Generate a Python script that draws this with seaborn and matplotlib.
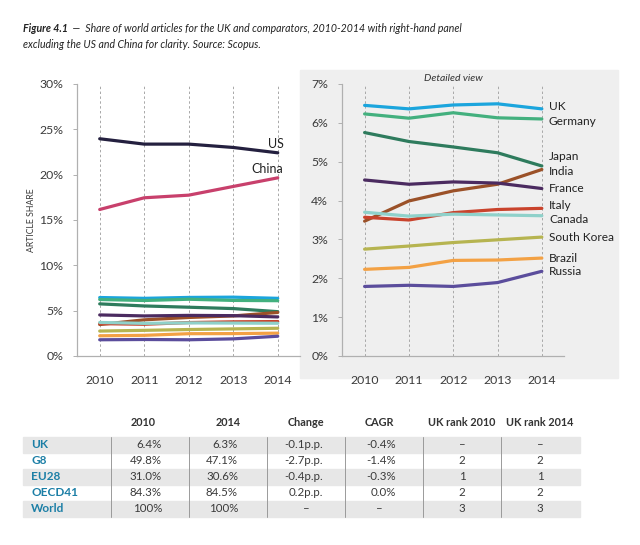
import matplotlib
matplotlib.use("Agg")
import pandas as pd
import seaborn as sns
from matplotlib import pyplot as plt
from matplotlib.patches import Rectangle

years = [2010, 2011, 2012, 2013, 2014]

# share of world articles, %
us = [23.96, 23.37, 23.37, 23.00, 22.41]
china = [16.16, 17.45, 17.74, 18.70, 19.65]
uk = [6.45, 6.36, 6.46, 6.49, 6.36]
germany = [6.23, 6.12, 6.26, 6.13, 6.10]
japan = [5.75, 5.52, 5.38, 5.23, 4.89]
india = [3.47, 3.99, 4.25, 4.42, 4.80]
france = [4.53, 4.42, 4.48, 4.45, 4.31]
italy = [3.57, 3.50, 3.69, 3.77, 3.80]
canada = [3.70, 3.60, 3.65, 3.63, 3.61]
south_korea = [2.75, 2.83, 2.92, 2.99, 3.06]
brazil = [2.23, 2.28, 2.46, 2.47, 2.52]
russia = [1.79, 1.82, 1.79, 1.89, 2.18]

series = {
    "US": us, "China": china, "UK": uk, "Germany": germany, "Japan": japan,
    "India": india, "France": france, "Italy": italy, "Canada": canada,
    "South Korea": south_korea, "Brazil": brazil, "Russia": russia,
}
colors = {
    "US": "#24203f", "China": "#c8406c", "UK": "#1ba5dd", "Germany": "#43b07e",
    "Japan": "#2e7b5d", "India": "#9b5128", "France": "#4b2b60", "Italy": "#c9432c",
    "Canada": "#8fd1ca", "South Korea": "#b6b450", "Brazil": "#f3a144", "Russia": "#5b4d9c",
}
# label nudges on the right panel (percentage points)
nudge = {"UK": 0.07, "Germany": -0.07, "Japan": 0.24, "India": -0.04,
         "Italy": 0.07, "Canada": -0.09}

# table
tbl_header = ["2010", "2014", "Change", "CAGR", "UK rank 2010", "UK rank 2014"]
tbl_rows = ["UK", "G8", "EU28", "OECD41", "World"]
tbl_2010 = ["6.4%", "49.8%", "31.0%", "84.3%", "100%"]
tbl_2014 = ["6.3%", "47.1%", "30.6%", "84.5%", "100%"]
tbl_change = ["-0.1p.p.", "-2.7p.p.", "-0.4p.p.", "0.2p.p.", "–"]
tbl_cagr = ["-0.4%", "-1.4%", "-0.3%", "0.0%", "–"]
tbl_rank10 = ["–", "2", "1", "2", "3"]
tbl_rank14 = ["–", "2", "1", "2", "3"]

df = pd.DataFrame(
    [(c, y, v) for c, vals in series.items() for y, v in zip(years, vals)],
    columns=["country", "year", "share"],
)

sns.set_style("white")
plt.rcParams["font.family"] = ["Lato", "DejaVu Sans"]

W, H = 640, 545
fig = plt.figure(figsize=(6.4, 5.45), dpi=100)


def fx(x):
    return x / W


def fy(y):
    return 1 - y / H


GRID = "#a8a8a8"
TXT = "#3a3a3a"
FS = 8.8

# grey box behind right panel
fig.patches.append(Rectangle((fx(300), fy(378)), fx(618) - fx(300), fy(70) - fy(378),
                             transform=fig.transFigure, color="#efefef", zorder=-5))

ax1 = fig.add_axes([fx(77), fy(356), fx(300) - fx(77), fy(84) - fy(356)])
ax2 = fig.add_axes([fx(342), fy(356), fx(564) - fx(342), fy(84) - fy(356)])
ax2.patch.set_alpha(0)
ax1.patch.set_alpha(0)

sns.lineplot(data=df, x="year", y="share", hue="country", palette=colors,
             lw=2.3, legend=False, ax=ax1)
sub = df[~df["country"].isin(["US", "China"])]
sns.lineplot(data=sub, x="year", y="share", hue="country", palette=colors,
             lw=2.3, legend=False, ax=ax2)

for ax, top, step in [(ax1, 30, 5), (ax2, 7, 1)]:
    ax.set_xlim(2009.49, 2014.5)
    ax.set_ylim(0, top)
    ax.set_xticks(years)
    ax.set_xticklabels([str(y) for y in years])
    ax.set_yticks(range(0, top + 1, step))
    ax.set_yticklabels([f"{t}%" for t in range(0, top + 1, step)])
    for s in ["top", "right"]:
        ax.spines[s].set_visible(False)
    for s in ["left", "bottom"]:
        ax.spines[s].set_color("#b0b0b0")
        ax.spines[s].set_linewidth(0.9)
    ax.grid(axis="x", color=GRID, ls=(0, (2.5, 2.5)), lw=0.7)
    ax.tick_params(axis="x", length=5, width=0.7, color=GRID, pad=9,
                   labelsize=FS, labelcolor=TXT)
    ax.tick_params(axis="y", length=3, width=0.7, color="#b0b0b0", pad=7,
                   labelsize=FS, labelcolor=TXT, left=True)
    ax.set_xlabel("")
    ax.set_ylabel("")

ax1.set_ylabel("ARTICLE SHARE", fontsize=6.3, color=TXT, labelpad=2)
ax1.text(2014.13, us[-1] + 1.0, "US", ha="right", va="center", fontsize=9, color="#222")
ax1.text(2014.13, china[-1] + 1.0, "China", ha="right", va="center", fontsize=9, color="#222")

ax2.text(2012, 7.03, "Detailed view", ha="center", va="bottom", fontsize=7.5,
         style="italic", color="#333")
for name, vals in series.items():
    if name in ("US", "China"):
        continue
    ax2.text(2014.16, vals[-1] + nudge.get(name, 0), name, ha="left", va="center",
             fontsize=8.6, color="#222")

# title
t1 = fig.text(fx(23), fy(29), "Figure 4.1", fontsize=7.6, weight="bold", style="italic",
              color="#222", va="center")
fig.canvas.draw()
bb = t1.get_window_extent()
fig.text(fx(bb.x1 + 2), fy(29), " —  Share of world articles for the UK and comparators, "
         "2010-2014 with right-hand panel", fontsize=7.6, style="italic", color="#222",
         va="center")
fig.text(fx(23), fy(45), "excluding the US and China for clarity. Source: Scopus.",
         fontsize=7.6, style="italic", color="#222", va="center")

# table
col_edges = [23, 111, 189, 267, 345, 423, 501, 580]
row_y = [445, 461, 477, 493, 509]
row_h = 16
for i, y in enumerate(row_y):
    if i % 2 == 0:
        fig.patches.append(Rectangle((fx(col_edges[0]), fy(y + row_h / 2)),
                                     fx(col_edges[-1]) - fx(col_edges[0]), row_h / H,
                                     transform=fig.transFigure, color="#e7e7e7", zorder=-5))
for x in col_edges[1:-1]:
    fig.add_artist(plt.Line2D([fx(x), fx(x)], [fy(row_y[0] - row_h / 2), fy(row_y[-1] + row_h / 2)],
                              transform=fig.transFigure, color="#9a9a9a", lw=0.7))

head_x = [143, 228, 306, 379, 462, 540]
for hx, h in zip(head_x, tbl_header):
    fig.text(fx(hx), fy(423), h, ha="center", va="center", fontsize=7.8,
             weight="bold", color="#333")

cols = [tbl_2010, tbl_2014, tbl_change, tbl_cagr, tbl_rank10, tbl_rank14]
val_x = [162, 238, 323, 396, 462, 540]
for i, y in enumerate(row_y):
    fig.text(fx(31), fy(y), tbl_rows[i], ha="left", va="center", fontsize=8.5,
             weight="bold", color="#1c7fa6")
    for j, col in enumerate(cols):
        v = col[i]
        if j >= 4 or v == "–":
            cx = val_x[j] if j >= 4 else head_x[j]
            fig.text(fx(cx), fy(y), v, ha="center", va="center", fontsize=8.3, color=TXT)
        else:
            fig.text(fx(val_x[j]), fy(y), v, ha="right", va="center", fontsize=8.3, color=TXT)

fig.savefig("out.png", dpi=100, facecolor="white")
